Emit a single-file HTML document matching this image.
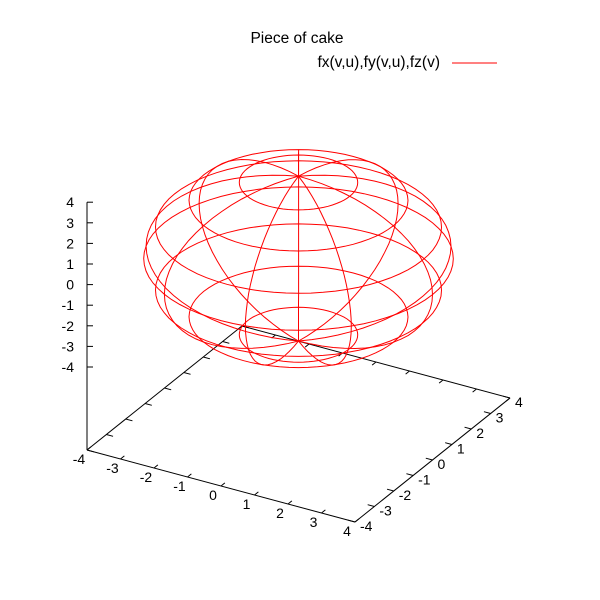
<!DOCTYPE html>
<html><head><meta charset="utf-8"><style>
html,body{margin:0;padding:0;background:#fff;}
svg{display:block;font-family:"Liberation Sans",sans-serif;font-size:14px;}
</style></head><body>
<svg id="c" width="600" height="600" viewBox="0 0 600 600">
<text x="297" y="43" text-anchor="middle" fill="#000" font-size="15.5">Piece of cake</text>
<g>
<text x="440" y="67" text-anchor="end" fill="#000" font-size="15.5">fx(v,u),fy(v,u),fz(v)</text>
<line x1="452" y1="63" x2="497" y2="63" stroke="#f00" stroke-width="1"/>
</g>
<g id="axes"></g>
<g id="surf"></g>
</svg>
<script>
const xTicks = [-4,-3,-2,-1,0,1,2,3,4];
const yTicks = [-4,-3,-2,-1,0,1,2,3,4];
const zTicks = [-4,-3,-2,-1,0,1,2,3,4];
const uSamples = [0,40,80,120,160,200,240,280,320];
const vSamples = [-67.5,-45,-22.5,0,22.5,45,67.5];
const radius = [4];

const NS='http://www.w3.org/2000/svg';
function proj(x,y,z){
  const sx = 87 + (x+4)/8*268 + (y+4)/8*155;
  const sy = 450 + (x+4)/8*72 - (y+4)/8*124 - (z+4)*20.6 - 83;
  return [sx,sy];
}
function base(x,y){
  return [87 + (x+4)/8*268 + (y+4)/8*155, 450 + (x+4)/8*72 - (y+4)/8*124];
}
const axes=document.getElementById('axes'), surf=document.getElementById('surf');
function line(g,a,b,col,name){
  const l=document.createElementNS(NS,'line');
  l.setAttribute('x1',a[0]);l.setAttribute('y1',a[1]);l.setAttribute('x2',b[0]);l.setAttribute('y2',b[1]);
  l.setAttribute('stroke',col);l.setAttribute('stroke-width','1');
  
  
  g.appendChild(l);
}
function text(x,y,s,anchor,name){
  const t=document.createElementNS(NS,'text');
  t.setAttribute('x',x);t.setAttribute('y',y);t.setAttribute('text-anchor',anchor);t.textContent=s;
  
  
  axes.appendChild(t);
}
line(axes,base(-4,-4),base(4,-4),'#000','x-axis-line');
line(axes,base(4,-4),base(4,4),'#000','y-axis-line');
line(axes,base(4,4),base(-4,4),'#000','back-edge');
line(axes,base(-4,4),base(-4,-4),'#000','left-edge');
line(axes,base(-4,-4),proj(-4,-4,4),'#000','z-axis-line');
xTicks.forEach(v=>{
  const a=base(v,-4), b=base(v,-3.8);
  line(axes,a,b,'#000','x-tick');
  const c=base(v,4), d=base(v,3.8);
  line(axes,c,d,'#000','x-tick-mirror');
  text(a[0]-8,a[1]+14,String(v),'middle','x-tick-label');
});
yTicks.forEach(v=>{
  const a=base(4,v), b=base(3.8,v);
  line(axes,a,b,'#000','y-tick');
  const c=base(-4,v), d=base(-3.8,v);
  line(axes,c,d,'#000','y-tick-mirror');
  text(a[0]+5,a[1]+9,String(v),'start','y-tick-label');
});
zTicks.forEach(v=>{
  const a=proj(-4,-4,v);
  line(axes,a,[a[0]+6,a[1]],'#000','z-tick');
  text(a[0]-13,a[1]+5,String(v),'end','z-tick-label');
});
const R=radius[0], d2r=Math.PI/180;
function pt(u,v){return proj(R*Math.cos(v*d2r)*Math.cos(u*d2r), R*Math.cos(v*d2r)*Math.sin(u*d2r), R*Math.sin(v*d2r));}
function poly(pts,name){
  const p=document.createElementNS(NS,'polyline');
  p.setAttribute('points',pts.map(q=>q[0].toFixed(1)+','+q[1].toFixed(1)).join(' '));
  p.setAttribute('fill','none');p.setAttribute('stroke','#f00');p.setAttribute('stroke-width','1');
  
  
  surf.appendChild(p);
}
uSamples.forEach(u=>{
  const pts=[];for(let v=-90;v<=90;v+=5)pts.push(pt(u,v));poly(pts,'meridian');
});
vSamples.forEach(v=>{
  const pts=[];for(let u=0;u<=360;u+=5)pts.push(pt(u,v));poly(pts,'parallel');
});
</script>
</body></html>
